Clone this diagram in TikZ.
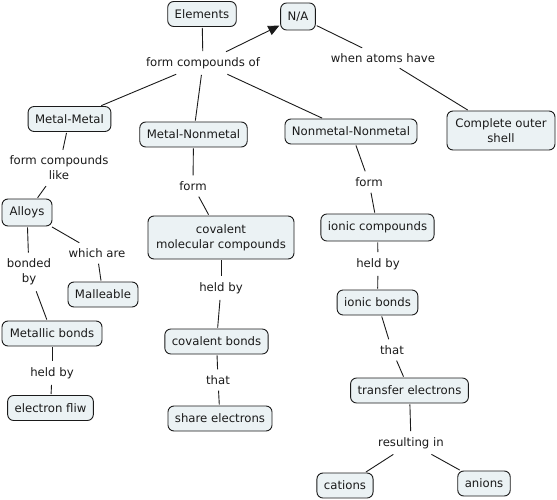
\documentclass[tikz,border=0pt]{standalone}
\usepackage{fontspec}
\setmainfont{DejaVu Sans}
\usetikzlibrary{arrows.meta}
\definecolor{boxfill}{HTML}{EBF2F4}
\definecolor{ink}{HTML}{1A1A1A}
\tikzset{
  concept/.style={draw=ink, fill=boxfill, rounded corners=6pt, line width=0.9pt,
    inner xsep=7pt, inner ysep=3pt, minimum height=25pt, align=center,
    font=\fontsize{11.7}{15}\selectfont, text=ink},
  lbl/.style={inner xsep=3pt, inner ysep=5pt, align=center,
    font=\fontsize{11.7}{15}\selectfont, text=ink},
  link/.style={draw=ink, line width=0.9pt, shorten <=1pt, shorten >=1pt},
  arr/.style={link, -{Triangle[length=11pt,width=10pt]}}
}
\begin{document}
\begin{tikzpicture}[x=1pt,y=-1pt]
\useasboundingbox (0,0) rectangle (557,500);
% concepts
\node[concept] (el) at (202,14) {Elements};
\node[concept, minimum height=27pt] (na) at (298,16.5) {N/A};
\node[concept, inner xsep=2pt, minimum width=108pt, minimum height=39pt] (cos) at (501,130.5) {Complete outer\\shell};
\node[concept] (mm) at (69.5,119) {Metal-Metal};
\node[concept] (mn) at (193.5,134.5) {Metal-Nonmetal};
\node[concept] (nn) at (351,131.5) {Nonmetal-Nonmetal};
\node[concept, minimum height=27pt, minimum width=50pt] (al) at (27,212.5) {Alloys};
\node[concept] (ma) at (103,294.5) {Malleable};
\node[concept, minimum width=100pt] (mb) at (52,333.5) {Metallic bonds};
\node[concept] (ef) at (50.5,408) {electron fliw};
\node[concept, minimum height=43pt, minimum width=146pt] (cmc) at (221,237.5) {covalent\\molecular compounds};
\node[concept] (cb) at (216.5,341.5) {covalent bonds};
\node[concept] (se) at (220,418.5) {share electrons};
\node[concept, minimum height=27pt] (ic) at (377.5,227.5) {ionic compounds};
\node[concept] (ib) at (377.5,302.5) {ionic bonds};
\node[concept] (te) at (409.5,390.5) {transfer electrons};
\node[concept] (ca) at (345,485.5) {cations};
\node[concept] (an) at (484,483.5) {anions};
% linking phrases
\node[lbl] (fco) at (203,63) {form compounds of};
\node[lbl] (wah) at (383,58) {when atoms have};
\node[lbl] (fcl) at (59,168) {form compounds\\like};
\node[lbl] (wa) at (97,253) {which are};
\node[lbl] (bb) at (29,272) {bonded\\by};
\node[lbl] (hb1) at (52,373) {held by};
\node[lbl] (f1) at (193,186) {form};
\node[lbl] (hb2) at (221,288) {held by};
\node[lbl] (th1) at (218,380) {that};
\node[lbl] (f2) at (369,182) {form};
\node[lbl] (hb3) at (378,264) {held by};
\node[lbl] (th2) at (392,350) {that};
\node[lbl] (ri) at (411,443) {resulting in};
% connectors
\draw[link] (el) -- (fco);
\draw[arr] (fco) -- (na);
\draw[link] (fco) -- (mm);
\draw[link] (fco) -- (mn);
\draw[link] (fco) -- (nn);
\draw[link] (na) -- (wah);
\draw[link] (wah) -- (cos);
\draw[link] (mm) -- (fcl);
\draw[link] (fcl) -- (al);
\draw[link] (al) -- (wa);
\draw[link] (wa) -- (ma);
\draw[link] (al) -- (bb);
\draw[link] (bb) -- (mb);
\draw[link] (mb) -- (hb1);
\draw[link] (hb1) -- (ef);
\draw[link] (mn) -- (f1);
\draw[link] (f1) -- (cmc);
\draw[link] (cmc) -- (hb2);
\draw[link] (hb2) -- (cb);
\draw[link] (cb) -- (th1);
\draw[link] (th1) -- (se);
\draw[link] (nn) -- (f2);
\draw[link] (f2) -- (ic);
\draw[link] (ic) -- (hb3);
\draw[link] (hb3) -- (ib);
\draw[link] (ib) -- (th2);
\draw[link] (th2) -- (te);
\draw[link] (te) -- (ri);
\draw[link] (ri) -- (ca);
\draw[link] (ri) -- (an);
\end{tikzpicture}
\end{document}
